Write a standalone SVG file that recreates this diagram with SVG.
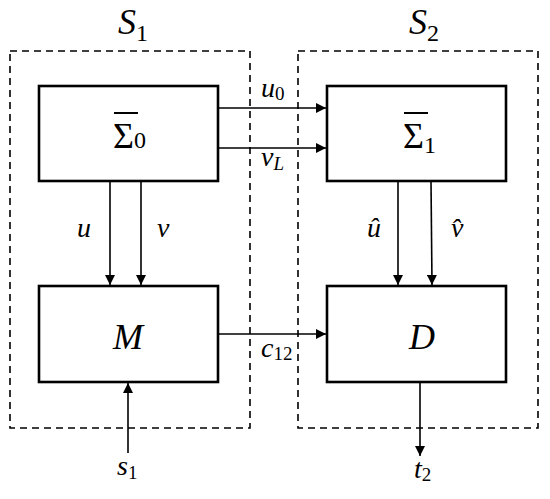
<svg xmlns="http://www.w3.org/2000/svg" width="550" height="499" viewBox="0 0 550 499">
<style>
.sys{fill:none;stroke:#000;stroke-width:1.6;stroke-dasharray:7,5}
.box{fill:#fff;stroke:#000;stroke-width:2.6}
.ln{fill:none;stroke:#000;stroke-width:1.6}
.v{font-family:"Liberation Serif",serif;font-style:italic;fill:#000}
.r{font-family:"Liberation Serif",serif;fill:#000}
</style>
<defs>
<marker id="ah" viewBox="0 0 10 10" refX="10" refY="5" markerWidth="10" markerHeight="10" markerUnits="userSpaceOnUse" orient="auto">
<path d="M0,0 L10,5 L0,10 z" fill="#000"/>
</marker>
</defs>
<rect width="550" height="499" fill="#fff"/>
<g id="S1">
<rect class="sys" x="10" y="51" width="240" height="377"/>
<text class="v" x="118" y="34" font-size="36">S<tspan class="r" font-style="normal" font-size="24" dy="7">1</tspan></text>
</g>
<g id="S2">
<rect class="sys" x="298" y="51" width="240" height="377"/>
<text class="v" x="409" y="34" font-size="36">S<tspan class="r" font-style="normal" font-size="24" dy="7">2</tspan></text>
</g>
<g id="connectors">
<line class="ln" x1="218" y1="108" x2="326" y2="108" marker-end="url(#ah)"/>
<line class="ln" x1="218" y1="148" x2="326" y2="148" marker-end="url(#ah)"/>
<line class="ln" x1="110" y1="181" x2="110" y2="285" marker-end="url(#ah)"/>
<line class="ln" x1="141" y1="181" x2="141" y2="285" marker-end="url(#ah)"/>
<line class="ln" x1="398" y1="181" x2="398" y2="285" marker-end="url(#ah)"/>
<line class="ln" x1="431" y1="181" x2="432" y2="285" marker-end="url(#ah)"/>
<line class="ln" x1="218" y1="334" x2="326" y2="334" marker-end="url(#ah)"/>
<line class="ln" x1="128" y1="453" x2="128" y2="383" marker-end="url(#ah)"/>
<line class="ln" x1="420" y1="382" x2="420" y2="456" marker-end="url(#ah)"/>
<text class="v" x="261" y="97" font-size="28">u<tspan class="r" font-style="normal" font-size="19" dy="3">0</tspan></text>
<text class="v" x="261" y="166" font-size="28">v<tspan font-size="19" dy="4">L</tspan></text>
<text class="v" x="77" y="237" font-size="28">u</text>
<text class="v" x="157" y="237" font-size="28">v</text>
<text class="v" x="367" y="237" font-size="28">û</text>
<text class="v" x="451" y="237" font-size="28">v̂</text>
<text class="v" x="261" y="357" font-size="28">c<tspan class="r" font-style="normal" font-size="19" dy="3">12</tspan></text>
<text class="v" x="117" y="475" font-size="28">s<tspan class="r" font-style="normal" font-size="19" dy="4">1</tspan></text>
<text class="v" x="414" y="478" font-size="28">t<tspan class="r" font-style="normal" font-size="19" dy="3">2</tspan></text>
</g>
<g id="Sigma0">
<rect class="box" x="39" y="86" width="179" height="95"/>
<line x1="114" y1="113" x2="138" y2="113" stroke="#000" stroke-width="2"/>
<text class="r" x="113" y="148" font-size="36">Σ<tspan font-size="24" dy="0">0</tspan></text>
</g>
<g id="Sigma1">
<rect class="box" x="327" y="86" width="179" height="95"/>
<line x1="404" y1="113" x2="428" y2="113" stroke="#000" stroke-width="2"/>
<text class="r" x="403" y="148" font-size="36">Σ<tspan font-size="24" dy="5">1</tspan></text>
</g>
<g id="M">
<rect class="box" x="39" y="286" width="179" height="96"/>
<text class="v" x="128" y="349" font-size="36" text-anchor="middle">M</text>
</g>
<g id="D">
<rect class="box" x="327" y="286" width="179" height="96"/>
<text class="v" x="422" y="349" font-size="36" text-anchor="middle">D</text>
</g>
</svg>
